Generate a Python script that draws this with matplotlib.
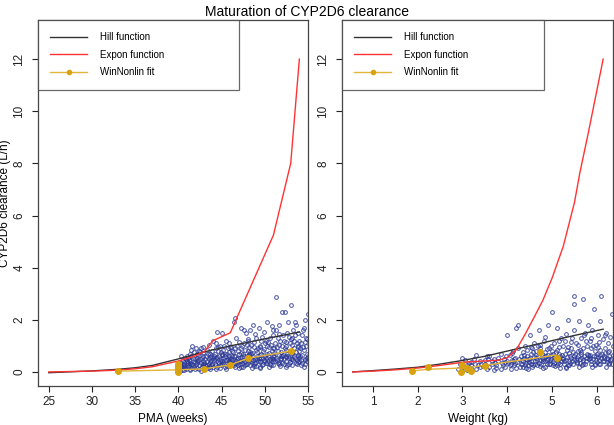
import numpy as np
import matplotlib
matplotlib.use("Agg")
import matplotlib.pyplot as plt
from matplotlib.lines import Line2D

plt.rcParams['font.family'] = ['Liberation Sans', 'DejaVu Sans']

# --- observed clearance vs PMA (weeks) ---
pma_obs = [
    (40.1,0.12),(40.2,0.35),(40.3,0.22),(40.4,0.08),(40.5,0.45),(40.6,0.18),(40.7,0.3),(40.8,0.55),(40.9,0.1),(41.0,0.25),
    (40.2,0.05),(40.5,0.28),(40.8,0.15),(41.0,0.4),(40.3,0.6),(40.6,0.38),(40.9,0.48),(40.4,0.2),(40.7,0.07),(41.0,0.62),
    (41.1,0.2),(41.2,0.45),(41.3,0.12),(41.4,0.7),(41.5,0.32),(41.6,1.0),(41.7,0.55),(41.8,0.18),(41.9,0.38),(42.0,0.9),
    (41.2,0.28),(41.4,0.08),(41.5,0.6),(41.7,0.25),(41.9,0.5),(41.3,0.4),(41.6,0.15),(41.8,0.75),(42.0,0.3),(41.1,0.55),
    (41.5,0.85),(41.9,0.1),(41.4,0.35),
    (42.1,0.4),(42.2,0.15),(42.3,0.65),(42.4,0.28),(42.5,0.5),(42.6,0.9),(42.7,0.2),(42.8,0.42),(42.9,0.72),(43.0,0.35),
    (42.2,0.55),(42.4,0.1),(42.6,0.33),(42.8,0.6),(43.0,0.18),(42.3,0.45),(42.5,0.78),(42.7,0.52),(42.9,0.25),(42.1,0.7),
    (42.6,0.05),(42.9,0.95),(42.4,0.82),
    (43.1,0.5),(43.2,0.22),(43.3,0.4),(43.4,0.68),(43.5,0.3),(43.6,0.58),(43.7,0.12),(43.8,0.45),(43.9,0.8),(44.0,1.2),
    (43.2,0.62),(43.4,0.15),(43.6,0.38),(43.8,0.25),(44.0,0.55),(43.3,0.85),(43.5,0.48),(43.7,0.7),(43.9,0.32),(43.1,0.28),
    (43.5,1.05),(43.8,0.6),(44.0,0.2),
    (44.1,0.45),(44.2,0.7),(44.3,0.25),(44.4,0.9),(44.5,1.55),(44.6,0.38),(44.7,0.6),(44.8,0.15),(44.9,0.5),(45.0,1.5),
    (44.2,0.32),(44.4,0.55),(44.6,0.8),(44.8,0.42),(45.0,0.65),(44.3,1.1),(44.5,0.2),(44.7,0.35),(44.9,0.75),(44.1,0.62),
    (44.6,0.95),(45.0,0.3),(44.4,0.12),(44.8,1.0),
    (45.1,0.4),(45.2,0.85),(45.3,0.3),(45.4,0.6),(45.5,1.2),(45.6,0.22),(45.7,0.5),(45.8,0.75),(45.9,0.35),(46.0,0.95),
    (45.2,0.55),(45.4,0.18),(45.6,0.68),(45.8,0.42),(46.0,0.28),(45.3,1.0),(45.5,0.45),(45.7,0.9),(45.9,0.6),(45.1,0.7),
    (45.5,0.1),(45.8,1.1),(46.0,0.52),
    (46.1,0.5),(46.2,0.8),(46.3,0.3),(46.4,1.9),(46.5,0.62),(46.6,2.05),(46.7,0.42),(46.8,1.0),(46.9,0.25),(47.0,0.7),
    (46.2,0.45),(46.4,0.6),(46.6,0.9),(46.8,0.35),(47.0,1.15),(46.3,0.75),(46.5,0.2),(46.7,1.3),(46.9,0.55),(46.1,0.95),
    (46.5,0.4),(46.9,0.82),(47.0,0.15),
    (47.1,0.55),(47.2,0.9),(47.3,1.7),(47.4,0.35),(47.5,0.68),(47.6,1.1),(47.7,0.25),(47.8,1.5),(47.9,0.5),(48.0,0.8),
    (47.2,0.4),(47.4,1.0),(47.6,0.6),(47.8,0.3),(48.0,1.25),(47.3,0.72),(47.5,0.18),(47.7,0.85),(47.9,1.05),(47.1,0.3),
    (47.5,0.45),(47.9,0.62),(47.6,1.6),
    (48.1,0.6),(48.2,0.95),(48.3,1.6),(48.4,0.4),(48.5,0.72),(48.6,1.8),(48.7,0.3),(48.8,1.15),(48.9,0.5),(49.0,0.85),
    (48.2,0.45),(48.4,1.05),(48.6,0.62),(48.8,0.22),(49.0,1.3),(48.3,0.78),(48.5,0.35),(48.7,0.95),(48.9,0.55),(48.1,1.2),
    (48.5,0.15),(48.9,1.45),(48.4,0.68),
    (49.1,0.5),(49.2,0.9),(49.3,1.7),(49.4,0.38),(49.5,0.65),(49.6,1.2),(49.7,0.28),(49.8,0.82),(49.9,1.55),(50.0,0.6),
    (49.2,0.42),(49.4,1.0),(49.6,0.7),(49.8,0.3),(50.0,1.1),(49.3,0.55),(49.5,0.2),(49.7,1.35),(49.9,0.45),(49.1,0.78),
    (49.5,0.95),(49.9,0.88),(49.4,0.15),
    (50.1,0.55),(50.2,1.0),(50.3,1.9),(50.4,0.4),(50.5,0.72),(50.6,1.3),(50.7,0.25),(50.8,1.75),(50.9,0.62),(51.0,0.9),
    (50.2,0.35),(50.4,1.15),(50.6,0.5),(50.8,0.82),(51.0,1.6),(50.3,0.68),(50.5,0.18),(50.7,1.05),(50.9,0.42),(50.1,1.2),
    (50.5,0.95),(50.9,1.4),(50.6,0.3),(51.0,0.48),
    (51.1,0.6),(51.2,1.1),(51.3,2.88),(51.4,0.45),(51.5,0.8),(51.6,1.45),(51.7,0.3),(51.8,1.2),(51.9,0.55),(52.0,2.3),
    (51.2,0.4),(51.4,0.95),(51.6,0.65),(51.8,0.22),(52.0,1.0),(51.3,1.6),(51.5,0.35),(51.7,1.8),(51.9,0.75),(51.1,0.9),
    (51.5,1.3),(51.9,0.5),(51.6,1.05),(52.0,0.6),
    (52.1,0.65),(52.2,1.2),(52.3,2.3),(52.4,0.42),(52.5,0.85),(52.6,1.5),(52.7,1.9),(52.8,0.55),(52.9,1.1),(53.0,2.55),
    (52.2,0.3),(52.4,1.0),(52.6,0.7),(52.8,1.35),(53.0,0.48),(52.3,0.9),(52.5,0.2),(52.7,0.62),(52.9,0.38),(52.1,1.4),
    (52.5,1.15),(52.9,0.8),(52.6,0.25),(53.0,1.25),
    (53.1,0.7),(53.2,1.3),(53.3,0.45),(53.4,0.9),(53.5,1.9),(53.6,0.35),(53.7,1.1),(53.8,0.6),(53.9,1.5),(54.0,0.8),
    (53.2,0.25),(53.4,1.2),(53.6,0.75),(53.8,1.0),(54.0,0.4),(53.3,1.6),(53.5,0.55),(53.7,0.3),(53.9,0.95),(53.1,1.05),
    (53.5,1.4),(53.9,0.65),(53.6,1.8),(54.0,1.2),
    (54.1,0.6),(54.2,1.1),(54.3,0.35),(54.4,1.6),(54.5,0.85),(54.6,2.0),(54.7,0.5),(54.8,1.3),(54.9,0.7),(55.0,2.22),
    (54.2,0.28),(54.4,0.95),(54.6,0.45),(54.8,1.0),(55.0,0.6),(54.3,1.4),(54.5,0.2),(54.7,1.15),(54.9,0.4),(54.1,0.9),
    (54.5,1.7),(54.9,1.25),(55.2,0.8),(55.3,1.4),
    # dense core
    (44.2,0.48),(44.5,0.58),(44.9,0.28),(45.2,0.36),(45.6,0.47),(45.9,0.22),(46.2,0.62),(46.5,0.33),(46.8,0.5),(47.1,0.42),
    (47.4,0.58),(47.7,0.38),(48.0,0.48),(48.3,0.26),(48.6,0.44),(48.9,0.35),(49.2,0.6),(49.5,0.4),(49.8,0.55),(50.1,0.33),
    (50.4,0.6),(50.7,0.45),(51.0,0.28),(51.3,0.52),(51.6,0.38),(51.9,0.62),(52.2,0.48),(52.5,0.58),(52.8,0.32),(53.1,0.5),
    (53.4,0.62),(53.7,0.45),(54.0,0.55),(54.3,0.65),(54.6,0.3),(54.9,0.52),(43.3,0.25),(43.6,0.2),(42.8,0.3),(42.2,0.35),
    (41.6,0.3),(41.1,0.35),(40.6,0.25),(45.4,0.7),(46.4,0.25),(47.2,0.2),(48.2,0.7),(49.0,0.22),(50.0,0.4),(51.1,0.72),
    (52.0,0.35),(53.2,0.72),(54.2,0.45),(55.1,0.5),(47.9,0.3),(49.6,0.52),(50.8,0.55),(52.4,0.62),(53.8,0.38),(46.0,0.4),
]

# --- observed clearance vs weight (kg) ---
wt_obs = [
    (2.9,0.1),(2.95,0.3),(3.0,0.2),(3.05,0.45),(3.1,0.08),(3.15,0.35),(3.2,0.15),(3.25,0.5),(3.3,0.65),(3.35,0.25),
    (3.4,0.4),(3.0,0.05),(3.1,0.28),(3.2,0.38),(3.3,0.12),(2.98,0.55),(3.38,0.18),(3.28,0.3),
    (3.45,0.22),(3.5,0.45),(3.55,0.1),(3.6,0.62),(3.65,0.3),(3.7,0.5),(3.75,0.15),(3.8,0.4),(3.85,0.7),(3.9,0.25),
    (3.5,0.32),(3.6,0.2),(3.7,0.08),(3.8,0.55),(3.88,0.35),(3.55,0.6),(3.65,0.42),(3.75,0.28),(3.85,0.12),
    (3.92,0.5),(3.96,0.2),(4.0,1.4),(4.02,0.35),(4.05,0.65),(4.08,0.1),(4.1,0.45),(4.12,0.8),(4.15,0.28),(4.18,0.55),
    (4.2,1.7),(4.22,0.38),(4.25,1.8),(4.28,0.18),(4.3,0.6),(4.0,0.42),(4.05,0.25),(4.1,0.72),(4.15,0.5),(4.2,0.15),
    (4.25,0.9),(4.3,0.32),(3.98,0.6),(4.12,0.4),
    (4.32,0.45),(4.34,0.75),(4.36,0.2),(4.38,0.55),(4.4,1.0),(4.42,0.35),(4.44,0.62),(4.46,0.12),(4.48,0.48),(4.5,1.4),
    (4.52,0.3),(4.54,0.7),(4.56,0.9),(4.58,0.25),(4.6,0.58),(4.35,0.4),(4.4,0.28),(4.45,0.85),(4.5,0.52),(4.55,0.18),
    (4.6,1.1),(4.38,0.65),(4.48,0.38),(4.58,0.75),(4.42,0.15),(4.52,0.95),
    (4.62,0.4),(4.64,0.8),(4.66,0.25),(4.68,0.6),(4.7,1.6),(4.72,0.45),(4.74,1.05),(4.76,0.3),(4.78,0.7),(4.8,0.5),
    (4.82,1.2),(4.84,0.2),(4.86,0.62),(4.88,0.88),(4.9,1.8),(4.65,0.52),(4.7,0.35),(4.75,0.75),(4.8,0.15),(4.85,0.42),
    (4.9,0.65),(4.68,1.0),(4.78,0.55),(4.88,0.3),(4.72,0.9),(4.84,1.35),
    (4.92,0.5),(4.94,0.9),(4.96,0.3),(4.98,0.65),(5.0,2.3),(5.02,0.42),(5.04,1.1),(5.06,0.22),(5.08,0.75),(5.1,1.7),
    (5.12,0.55),(5.14,0.35),(5.16,0.95),(5.18,0.6),(5.2,1.3),(4.95,0.45),(5.0,0.8),(5.05,0.58),(5.1,0.28),(5.15,1.2),
    (5.2,0.4),(4.98,1.0),(5.08,0.48),(5.18,0.15),(5.02,0.7),(5.12,0.85),
    (5.22,0.55),(5.24,1.0),(5.26,0.3),(5.28,0.7),(5.3,1.45),(5.32,0.45),(5.34,0.85),(5.36,2.0),(5.38,0.25),(5.4,0.62),
    (5.42,1.15),(5.44,0.4),(5.46,0.78),(5.48,1.6),(5.5,2.9),(5.5,2.6),(5.25,0.5),(5.3,0.2),(5.35,0.95),(5.4,0.35),
    (5.45,1.3),(5.5,0.6),(5.28,1.2),(5.38,0.72),(5.48,0.5),(5.32,0.15),(5.42,0.9),
    (5.52,0.7),(5.54,1.1),(5.56,0.35),(5.58,0.8),(5.6,1.95),(5.62,0.5),(5.64,1.3),(5.66,0.25),(5.68,0.9),(5.7,2.8),
    (5.72,0.6),(5.74,1.5),(5.76,0.4),(5.78,1.0),(5.8,1.8),(5.55,0.55),(5.6,0.18),(5.65,0.75),(5.7,0.45),(5.75,1.2),
    (5.8,0.65),(5.58,1.05),(5.68,0.3),(5.78,0.52),(5.62,0.85),(5.72,1.4),
    (5.82,0.6),(5.84,1.2),(5.86,0.4),(5.88,0.9),(5.9,1.6),(5.92,0.5),(5.94,2.4),(5.96,0.3),(5.98,1.05),(6.0,0.7),
    (6.02,1.4),(6.04,0.45),(6.06,0.85),(6.08,1.95),(6.1,2.9),(5.85,0.65),(5.9,0.2),(5.95,0.8),(6.0,0.38),(6.05,1.15),
    (6.1,0.55),(5.88,1.3),(5.98,0.6),(6.08,0.3),(5.92,1.0),(6.02,0.95),
    (6.12,0.7),(6.14,1.25),(6.16,0.4),(6.18,0.9),(6.2,1.5),(6.22,0.55),(6.24,1.1),(6.26,0.3),(6.28,0.8),(6.3,1.35),
    (6.32,0.5),(6.34,2.22),(6.36,0.65),(6.15,0.6),(6.2,0.2),(6.25,0.75),(6.3,0.45),(6.35,1.0),(6.18,1.4),(6.28,0.35),
    # dense core
    (4.33,0.3),(4.41,0.5),(4.47,0.25),(4.53,0.42),(4.61,0.3),(4.67,0.45),(4.73,0.22),(4.79,0.4),(4.83,0.58),(4.89,0.45),
    (4.93,0.3),(4.97,0.5),(5.03,0.25),(5.07,0.62),(5.13,0.45),(5.17,0.3),(5.23,0.65),(5.27,0.42),(5.33,0.58),(5.37,0.4),
    (5.43,0.55),(5.47,0.3),(5.53,0.45),(5.57,0.62),(5.63,0.35),(5.67,0.55),(5.73,0.3),(5.77,0.68),(5.83,0.48),(5.87,0.3),
    (5.93,0.6),(5.97,0.45),(6.03,0.58),(6.07,0.65),(6.13,0.42),(6.17,0.55),(6.23,0.38),(6.27,0.6),(6.33,0.3),(6.19,0.72),
    (4.08,0.3),(4.17,0.35),(4.27,0.48),(3.95,0.38),(3.72,0.35),(3.58,0.5),(3.42,0.3),(3.18,0.25),(5.05,0.35),(5.55,0.38),
    (5.85,0.55),(6.05,0.32),(4.63,0.65),(5.35,0.28),(5.65,0.7),(5.95,0.25),(4.85,0.75),(5.15,0.68),(6.25,0.5),(4.45,0.45),
]

# --- model curves ---
pma_hill_x = [25, 30, 33, 35, 37, 40, 42, 44, 46, 48, 50, 52, 54]
pma_hill_y = [-0.03, 0.04, 0.1, 0.16, 0.25, 0.5, 0.68, 0.85, 1.0, 1.13, 1.27, 1.4, 1.53]
pma_expon_x = [25, 30, 33, 35, 37, 40, 42, 43, 44, 46, 51, 53, 54]
pma_expon_y = [0.0, 0.03, 0.07, 0.12, 0.2, 0.42, 0.62, 0.78, 1.2, 1.5, 5.25, 8.0, 12.0]

wt_hill_x = [0.55, 1, 1.5, 2, 2.5, 3, 3.5, 4, 4.5, 5, 5.5, 6.14]
wt_hill_y = [0.0, 0.05, 0.11, 0.18, 0.3, 0.44, 0.6, 0.8, 1.0, 1.2, 1.4, 1.64]
wt_expon_x = [0.55, 1, 1.5, 2, 2.5, 3, 3.5, 3.8, 4.0, 4.2, 4.4, 4.6, 4.8, 5.0, 5.25, 5.5, 5.62, 5.8, 6.0, 6.14]
wt_expon_y = [0.0, 0.03, 0.08, 0.15, 0.25, 0.37, 0.42, 0.45, 0.55, 0.85, 1.45, 2.1, 2.77, 3.6, 4.82, 6.5, 7.64, 9.1, 10.8, 12.0]

# --- WinNonlin fit ---
pma_wnl_x = [33, 40, 43, 46, 48, 53]
pma_wnl_y = [0.03, 0.08, 0.12, 0.27, 0.52, 0.8]
pma_wnl_pts_x = [33, 40, 40, 40, 40, 40, 40, 40, 43, 46, 48, 53]
pma_wnl_pts_y = [0.03, 0.0, 0.05, 0.1, 0.15, 0.2, 0.25, 0.3, 0.12, 0.27, 0.52, 0.8]

wt_wnl_x = [1.88, 2.22, 3.0, 3.5, 4.0, 4.5, 5.1]
wt_wnl_y = [0.04, 0.1, 0.15, 0.25, 0.38, 0.5, 0.65]
wt_wnl_pts_x = [1.88, 2.22, 2.96, 3.0, 3.09, 3.2, 3.5, 4.74, 5.1]
wt_wnl_pts_y = [0.04, 0.17, 0.01, 0.27, 0.14, 0.04, 0.24, 0.78, 0.53]

pma_ticks = [25, 30, 35, 40, 45, 50, 55]
wt_ticks = [1, 2, 3, 4, 5, 6]
y_ticks = [0, 2, 4, 6, 8, 10, 12]

pt_col = '#2a3794'
hill_col = '#333333'
expon_col = '#ff3333'
wnl_col = '#d9a20f'
wnl_line_col = '#e3b53a'

fig = plt.figure(figsize=(6.14, 4.25), dpi=100)
ax1 = fig.add_axes([38/614, 1-386/425, 270/614, 366/425])
ax2 = fig.add_axes([342/614, 1-386/425, 271/614, 366/425])

panels = [
    (ax1, pma_obs, pma_hill_x, pma_hill_y, pma_expon_x, pma_expon_y,
     pma_wnl_x, pma_wnl_y, pma_wnl_pts_x, pma_wnl_pts_y, (23.75, 55.0), pma_ticks, 'PMA (weeks)'),
    (ax2, wt_obs, wt_hill_x, wt_hill_y, wt_expon_x, wt_expon_y,
     wt_wnl_x, wt_wnl_y, wt_wnl_pts_x, wt_wnl_pts_y, (0.31, 6.36), wt_ticks, 'Weight (kg)'),
]

for ax, obs, hx, hy, ex, ey, wx, wy, wpx, wpy, xlim, xt, xlab in panels:
    ox, oy = zip(*obs)
    ax.plot(ox, oy, 'o', ms=2.7, mfc='none', mec=pt_col, mew=0.75, alpha=0.8)
    ax.plot(hx, hy, color=hill_col, lw=1)
    ax.plot(ex, ey, color=expon_col, lw=1)
    ax.plot(wx, wy, color=wnl_line_col, lw=1)
    ax.plot(wpx, wpy, 'o', ms=4, color=wnl_col, mec=wnl_col)
    ax.set_xlim(*xlim)
    ax.set_ylim(-0.54, 13.5)
    ax.set_xticks(xt)
    ax.set_yticks(y_ticks)
    ax.tick_params(direction='out', length=4.5, width=0.8, labelsize=8.5, colors='#222222', pad=3)
    ax.tick_params(axis='y', pad=4.5)
    for lab in ax.get_yticklabels():
        lab.set_rotation(90)
        lab.set_va('center')
    for s in ax.spines.values():
        s.set_color('#444444')
        s.set_linewidth(0.9)
    ax.set_xlabel(xlab, fontsize=8.5, labelpad=3)

    handles = [
        Line2D([], [], color=hill_col, lw=1),
        Line2D([], [], color=expon_col, lw=1),
        Line2D([], [], color=wnl_line_col, lw=1, marker='o', ms=3, mfc=wnl_col, mec=wnl_col),
    ]
    leg = ax.legend(handles, ['Hill function', 'Expon function', 'WinNonlin fit'],
                    loc='upper left', bbox_to_anchor=(0, 0, 0.745, 1), mode='expand',
                    borderaxespad=0, fontsize=7, frameon=True, fancybox=False,
                    handlelength=3.8, handletextpad=1.3, borderpad=1.28, labelspacing=0.76)
    leg.get_frame().set_edgecolor('#444444')
    leg.get_frame().set_linewidth(0.9)

ax1.set_ylabel('CYP2D6 clearance (L/h)', fontsize=8.5)
ax1.yaxis.set_label_coords(-0.1, 0.5)
fig.suptitle('Maturation of CYP2D6 clearance', fontsize=10, y=0.988)

fig.savefig('out.png', dpi=100)
